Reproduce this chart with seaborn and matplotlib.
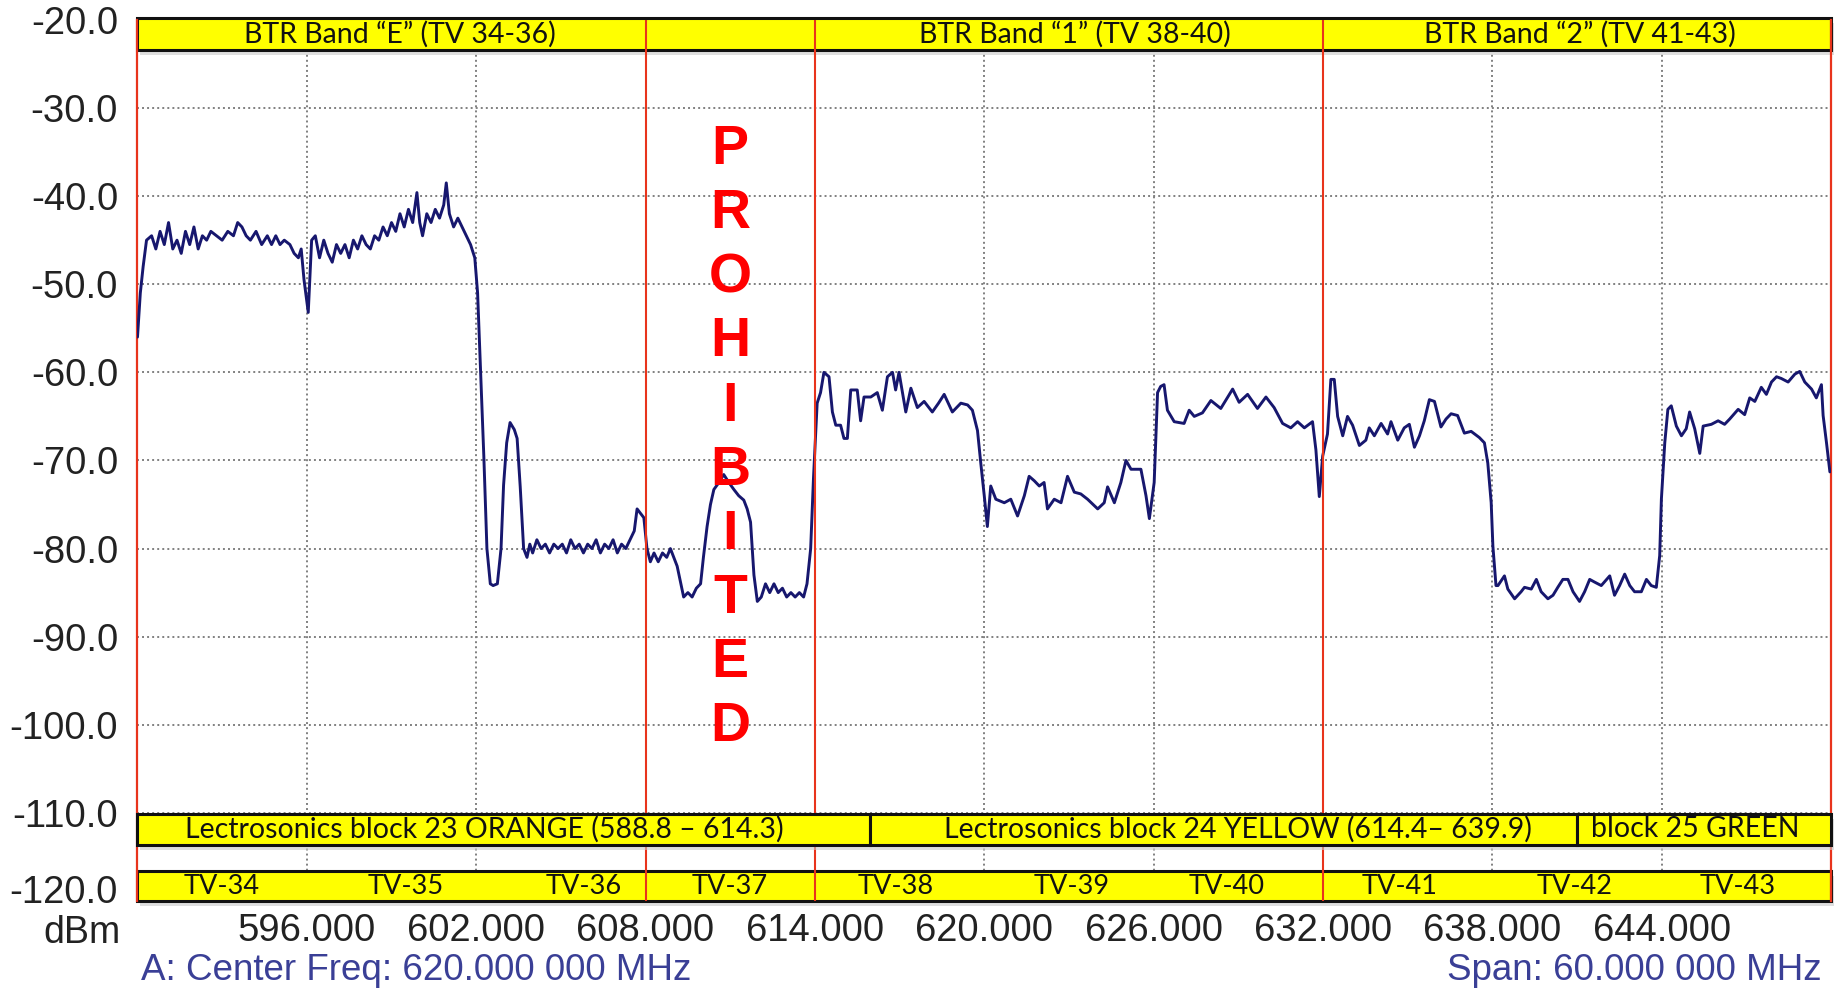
import numpy as np
import pandas as pd
import matplotlib
matplotlib.use("Agg")
import matplotlib.pyplot as plt
import matplotlib.transforms as mtransforms
from matplotlib.patches import Rectangle
import seaborn as sns

# spectrum trace: (MHz, dBm) per TV channel
tv34 = [(590.0, -56), (590.1, -51), (590.2, -48), (590.32, -45), (590.5, -44.5), (590.65, -46),
        (590.8, -44), (590.95, -45.5), (591.1, -43), (591.25, -46), (591.4, -45), (591.55, -46.5),
        (591.7, -44), (591.85, -45.5), (592.0, -43.5), (592.15, -46), (592.3, -44.5), (592.45, -45),
        (592.6, -44), (592.8, -44.5), (593.0, -45), (593.2, -44), (593.4, -44.5), (593.55, -43),
        (593.7, -43.5), (593.85, -44.5), (594.0, -45), (594.2, -44), (594.4, -45.5), (594.6, -44.5),
        (594.75, -45.5), (594.9, -44.5), (595.05, -45.5), (595.2, -45), (595.4, -45.5), (595.55, -46.5),
        (595.7, -47), (595.8, -46), (595.9, -49.5), (596.05, -53.2)]
tv35 = [(596.17, -45), (596.3, -44.5), (596.45, -47), (596.6, -45), (596.75, -46.5), (596.9, -47.5),
        (597.05, -45.5), (597.2, -46.5), (597.35, -45.5), (597.5, -47), (597.65, -45), (597.8, -46),
        (597.95, -44.5), (598.1, -45.5), (598.25, -46), (598.4, -44.5), (598.55, -45), (598.7, -43.5),
        (598.85, -44.5), (599.0, -43), (599.15, -44), (599.3, -42), (599.45, -43.5), (599.6, -41.5),
        (599.75, -43), (599.9, -39.6), (600.0, -43), (600.1, -44.5), (600.25, -42), (600.4, -43),
        (600.55, -41.5), (600.7, -42.5), (600.85, -41), (600.94, -38.5), (601.05, -42), (601.2, -43.5),
        (601.35, -42.5), (601.5, -43.5), (601.65, -44.5), (601.8, -45.5), (601.95, -47)]
tv36 = [(602.05, -51), (602.15, -59.5), (602.27, -69.5), (602.38, -80), (602.5, -84), (602.6, -84.2),
        (602.75, -84), (602.88, -80), (602.97, -72.8), (603.08, -68), (603.2, -65.7), (603.35, -66.5),
        (603.45, -67.5), (603.56, -73), (603.68, -80), (603.8, -81), (603.9, -79.5), (604.0, -80.5),
        (604.15, -79), (604.3, -80), (604.45, -79.5), (604.6, -80.5), (604.75, -79.5), (604.9, -80),
        (605.05, -79.5), (605.2, -80.5), (605.35, -79), (605.5, -80), (605.65, -79.5), (605.8, -80.5),
        (605.95, -79.5), (606.1, -80), (606.25, -79), (606.4, -80.5), (606.55, -79.5), (606.7, -80),
        (606.85, -79), (607.0, -80.5), (607.15, -79.5), (607.3, -80), (607.45, -79), (607.6, -78),
        (607.7, -75.5), (607.82, -76), (607.94, -76.5)]
tv37 = [(608.05, -80), (608.17, -81.5), (608.3, -80.5), (608.45, -81.5), (608.6, -80.5), (608.75, -81),
        (608.88, -80), (609.0, -81), (609.12, -82), (609.25, -84), (609.35, -85.5), (609.5, -85),
        (609.65, -85.5), (609.8, -84.5), (609.95, -84), (610.05, -81), (610.18, -77.5), (610.3, -75),
        (610.42, -73.3), (610.6, -72.5), (610.77, -71.6), (610.95, -72.5), (611.13, -73.3), (611.3, -74),
        (611.48, -74.5), (611.6, -75.5), (611.72, -77), (611.84, -83), (611.96, -86), (612.1, -85.5),
        (612.25, -84), (612.4, -85), (612.55, -84), (612.7, -85), (612.85, -84.5), (613.0, -85.5),
        (613.15, -85), (613.3, -85.5), (613.45, -85), (613.6, -85.5), (613.72, -84), (613.85, -80),
        (613.95, -72)]
tv38 = [(614.08, -63.5), (614.2, -62.3), (614.32, -60), (614.5, -60.5), (614.62, -64.5), (614.74, -66),
        (614.91, -66), (615.03, -67.5), (615.15, -67.5), (615.27, -62), (615.5, -62), (615.62, -65.5),
        (615.74, -62.8), (615.98, -62.8), (616.21, -62.3), (616.39, -64.3), (616.57, -60.5), (616.75, -60),
        (616.86, -62), (616.98, -60), (617.22, -64.5), (617.4, -61.8), (617.63, -64), (617.87, -63.3),
        (618.16, -64.5), (618.38, -63.5), (618.58, -62.5), (618.87, -64.5), (619.17, -63.5), (619.41, -63.7),
        (619.58, -64.3), (619.76, -66.6), (619.88, -70.4), (620.0, -74)]
tv39 = [(620.11, -77.5), (620.23, -72.9), (620.41, -74.4), (620.71, -74.8), (620.94, -74.4), (621.18, -76.3),
        (621.42, -74), (621.59, -71.8), (621.77, -72.3), (621.95, -72.9), (622.12, -72.5), (622.24, -75.5),
        (622.48, -74.4), (622.72, -74.8), (622.95, -71.8), (623.19, -73.6), (623.42, -73.8), (623.66, -74.4),
        (624.02, -75.5), (624.25, -74.8), (624.37, -73), (624.61, -74.8), (624.84, -72.5), (625.02, -70),
        (625.2, -71), (625.55, -71), (625.73, -74), (625.85, -76.6), (626.02, -72.5)]
tv40 = [(626.14, -62.3), (626.25, -61.6), (626.37, -61.4), (626.49, -64.3), (626.73, -65.6), (627.08, -65.8),
        (627.26, -64.3), (627.44, -65), (627.73, -64.6), (628.03, -63.2), (628.38, -64.1), (628.8, -61.9),
        (629.03, -63.4), (629.33, -62.5), (629.68, -64.1), (629.98, -62.8), (630.27, -64), (630.57, -65.8),
        (630.86, -66.3), (631.1, -65.6), (631.34, -66.3), (631.63, -65.6), (631.75, -68.8), (631.87, -74.1),
        (631.99, -69.5)]
tv41 = [(632.16, -67), (632.28, -60.8), (632.4, -60.8), (632.52, -65), (632.7, -67.2), (632.87, -65),
        (633.05, -66), (633.29, -68.3), (633.52, -67.7), (633.64, -66.3), (633.82, -67.2), (634.06, -65.8),
        (634.29, -67), (634.41, -65.6), (634.65, -67.7), (634.88, -66.3), (635.06, -65.9), (635.24, -68.5),
        (635.42, -67.2), (635.59, -65.5), (635.77, -63.1), (635.95, -63.3), (636.18, -66.2), (636.36, -65.3),
        (636.54, -64.7), (636.77, -64.9), (637.01, -66.9), (637.25, -66.7), (637.54, -67.4), (637.72, -68),
        (637.84, -70.3), (637.96, -74.8), (638.02, -79.7), (638.13, -84.2)]
tv42 = [(638.2, -84.2), (638.43, -83.1), (638.55, -84.6), (638.79, -85.7), (639.02, -84.9), (639.14, -84.4),
        (639.38, -84.6), (639.56, -83.5), (639.73, -84.9), (639.97, -85.7), (640.15, -85.3), (640.32, -84.4),
        (640.5, -83.5), (640.68, -83.5), (640.86, -84.9), (641.09, -86), (641.27, -84.9), (641.45, -83.5),
        (641.62, -83.8), (641.86, -84.2), (642.16, -83.1), (642.33, -85.3), (642.51, -84.2), (642.69, -82.9),
        (642.87, -84.2), (643.04, -84.9), (643.28, -84.9), (643.46, -83.5), (643.63, -84.2), (643.81, -84.4),
        (643.93, -80.8), (643.99, -74.4)]
tv43 = [(644.11, -68), (644.22, -64.2), (644.34, -63.8), (644.52, -66.1), (644.7, -67.2), (644.87, -66.4),
        (644.99, -64.5), (645.17, -66.4), (645.35, -69.2), (645.47, -66.1), (645.76, -65.9), (646.0, -65.5),
        (646.23, -65.9), (646.41, -65.3), (646.71, -64.2), (646.94, -64.8), (647.12, -62.9), (647.3, -63.3),
        (647.53, -61.7), (647.71, -62.5), (647.89, -61.1), (648.07, -60.5), (648.24, -60.7), (648.48, -61.1),
        (648.72, -60.2), (648.89, -59.9), (649.07, -61.1), (649.31, -61.9), (649.48, -62.9), (649.66, -61.4),
        (649.72, -64.9), (649.84, -68), (649.96, -71.3)]

trace = pd.DataFrame(tv34 + tv35 + tv36 + tv37 + tv38 + tv39 + tv40 + tv41 + tv42 + tv43,
                     columns=["MHz", "dBm"])

x_ticks = [596, 602, 608, 614, 620, 626, 632, 638, 644]
y_ticks = [-20, -30, -40, -50, -60, -70, -80, -90, -100, -110, -120]
red_lines = [608, 614, 632]

btr_labels = ["BTR Band \u201cE\u201d (TV 34-36)", "BTR Band \u201c1\u201d (TV 38-40)", "BTR Band \u201c2\u201d (TV 41-43)"]
btr_centres = [599.3, 623.2, 641.1]

block_edges = [590, 615.95, 641.0, 650]
block_labels = ["Lectrosonics block 23 ORANGE (588.8 \u2013 614.3)",
                "Lectrosonics block 24 YELLOW (614.4\u2013 639.9)", "block 25 GREEN"]
block_centres = [602.3, 629.0, 645.2]

tv_labels = ["TV-34", "TV-35", "TV-36", "TV-37", "TV-38", "TV-39", "TV-40", "TV-41", "TV-42", "TV-43"]
tv_centres = [593.0, 599.5, 605.8, 611.0, 616.85, 623.1, 628.6, 634.7, 640.9, 646.7]

sns.set_style("white")
plt.rcParams["font.family"] = ["Liberation Sans", "DejaVu Sans"]

fig = plt.figure(figsize=(18.43, 9.9), dpi=100)
ax = fig.add_axes([0.0746, 0.0899, 0.9189, 0.89])

sns.lineplot(data=trace, x="MHz", y="dBm", ax=ax, color="#17176e", lw=2.1,
             sort=False, estimator=None, zorder=3)

ax.set_xlim(590, 650)
ax.set_ylim(-120, -20)
ax.set_xticks(x_ticks)
ax.set_xticklabels([f"{v:.3f}" for v in x_ticks])
ax.set_yticks(y_ticks)
ax.set_yticklabels([f"{v:.1f}" for v in y_ticks])
ax.set_xlabel("")
ax.set_ylabel("")
ax.set_axisbelow(True)
ax.grid(True, ls=(0, (1, 1.6)), color="#808080", lw=1.4)
ax.tick_params(axis="both", length=0, labelsize=27.5, colors="#222222")
ax.tick_params(axis="y", pad=14)
ax.tick_params(axis="x", pad=9)
for s in ["top", "bottom"]:
    ax.spines[s].set_visible(False)
for s in ["left", "right"]:
    ax.spines[s].set_color("#e8341c")
    ax.spines[s].set_linewidth(1.6)

# the -120.0 label sits a little higher on the analyser screen
last = ax.get_yticklabels()[-1]
last.set_transform(last.get_transform() + mtransforms.ScaledTranslation(0, 12 / 100, fig.dpi_scale_trans))

red = "#e8341c"
for xv in red_lines:
    ax.axvline(xv, color=red, lw=1.5, zorder=3.5)

shadow_tr = ax.transData + mtransforms.ScaledTranslation(3 / 100, -5 / 100, fig.dpi_scale_trans)


def strip(x0, x1, y0, y1, z):
    ax.add_patch(Rectangle((x0, y0), x1 - x0, y1 - y0, transform=shadow_tr, facecolor="#c8c8c8",
                           edgecolor="none", alpha=0.6, zorder=z - 0.1, clip_on=False))
    ax.add_patch(Rectangle((x0, y0), x1 - x0, y1 - y0, facecolor="#ffff00", edgecolor="#111111",
                           lw=2.2, zorder=z, clip_on=False))


strip_font = dict(family=["Lato", "DejaVu Sans"], color="#111111",
                  ha="center", va="center", zorder=6)

# top band
strip(590, 650, -23.4, -19.8, 2)
for lab, xc in zip(btr_labels, btr_centres):
    ax.text(xc, -21.6, lab, fontsize=20.5, **strip_font)

# Lectrosonics blocks
for i, lab in enumerate(block_labels):
    strip(block_edges[i], block_edges[i + 1], -113.6, -110.1, 4)
    ax.text(block_centres[i], -111.85, lab, fontsize=20.5, **strip_font)

# TV channel band
strip(590, 650, -120.0, -116.6, 2)
for lab, xc in zip(tv_labels, tv_centres):
    ax.text(xc, -118.3, lab, fontsize=19.5, **strip_font)

# PROHIBITED
for i, ch in enumerate("PROHIBITED"):
    ax.text(611.0, -34.8 - i * 7.27, ch, color="#ff0000", fontsize=40, fontweight="bold",
            ha="center", va="center", zorder=6)

fig.text(82 / 1843, 1 - 933 / 990, "dBm", fontsize=27, color="#222222", ha="center", va="center")
fig.text(141 / 1843, 1 - 971 / 990, "A: Center Freq: 620.000 000 MHz", fontsize=26.5,
         color="#3a3f96", ha="left", va="center")
fig.text(1822 / 1843, 1 - 971 / 990, "Span: 60.000 000 MHz", fontsize=26.5,
         color="#3a3f96", ha="right", va="center")

fig.savefig("out.png", dpi=100)
